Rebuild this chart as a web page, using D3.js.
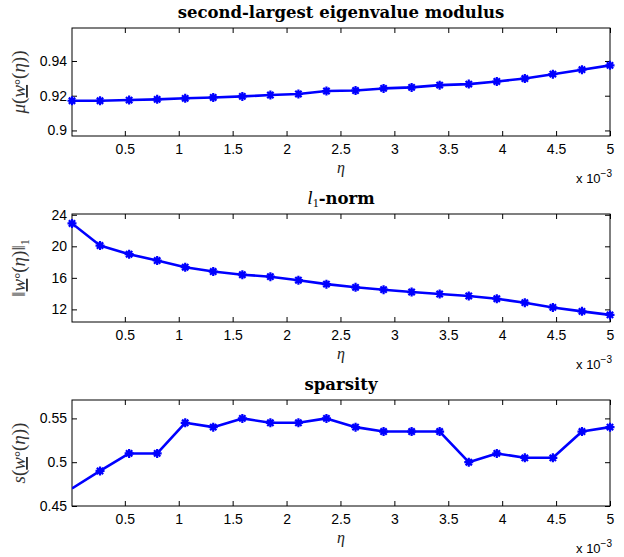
<!DOCTYPE html>
<html><head><meta charset="utf-8">
<script src="https://cdn.jsdelivr.net/npm/d3@7"></script>
<style>
body{margin:0;background:#fff;}
svg{display:block;}
</style></head>
<body>
<svg id="chart" width="624" height="557"></svg>
<script>
// eta values, in units of 1e-3
const eta = [0.01,0.27,0.54,0.80,1.06,1.32,1.59,1.85,2.11,2.37,2.64,2.90,3.16,3.42,3.69,3.95,4.21,4.47,4.74,5.00];
const xTicks = [0.5,1,1.5,2,2.5,3,3.5,4,4.5,5];

const modulus = [0.9171,0.9171,0.9175,0.9179,0.9185,0.9190,0.9196,0.9204,0.9210,0.9227,0.9230,0.9242,0.9248,0.9261,0.9267,0.9282,0.9299,0.9324,0.9350,0.9375];
const modulusTicks = [0.9,0.92,0.94];

const l1norm = [22.9,20.1,19.0,18.2,17.35,16.8,16.4,16.15,15.7,15.2,14.8,14.5,14.2,13.95,13.7,13.35,12.85,12.25,11.75,11.3];
const l1Ticks = [12,16,20,24];

const sparsity = [0.47,0.49,0.51,0.51,0.545,0.54,0.55,0.545,0.545,0.55,0.54,0.535,0.535,0.535,0.50,0.51,0.505,0.505,0.535,0.54];
const sparsityTicks = [0.45,0.5,0.55];

const svg = d3.select("#chart");
const L = 72, R = 610;
const x = d3.scaleLinear().domain([0.01, 5.0]).range([L, R]);

const panels = [
  {top:28, h:108, data:modulus, dom:[0.8968,0.959], ticks:modulusTicks, skipFirst:false},
  {top:214, h:108, data:l1norm, dom:[10.4,24.1], ticks:l1Ticks, skipFirst:false},
  {top:400, h:106, data:sparsity, dom:[0.45,0.571], ticks:sparsityTicks, skipFirst:true}
];

const tickFont = "'Liberation Sans', Arial, sans-serif";
const serif = "'DejaVu Serif', 'Liberation Serif', serif";
const mathFont = "'Liberation Serif', 'DejaVu Serif', serif";

function starPath(r){
  const d = r*0.7;
  return `M${-r},0L${r},0M0,${-r}L0,${r}M${-d},${-d}L${d},${d}M${-d},${d}L${d},${-d}`;
}

panels.forEach((p,pi)=>{
  const y = d3.scaleLinear().domain(p.dom).range([p.top+p.h, p.top]);
  const g = svg.append("g");
  const B = p.top + p.h;

  g.append("rect").attr("x",L).attr("y",p.top).attr("width",R-L).attr("height",p.h)
    .attr("fill","none").attr("stroke","#000").attr("stroke-width",1);

  const xb = g.append("g").attr("transform",`translate(0,${B})`)
    .call(d3.axisBottom(x).tickValues(xTicks).tickSizeInner(-5).tickSizeOuter(0).tickPadding(8).tickFormat(d=>String(d)));
  xb.select(".domain").remove();
  xb.selectAll("text").attr("font-family",tickFont).attr("font-size",14).attr("fill","#000");
  const xt = g.append("g").attr("transform",`translate(0,${p.top})`)
    .call(d3.axisTop(x).tickValues(xTicks).tickSizeInner(-5).tickSizeOuter(0).tickFormat(""));
  xt.select(".domain").remove();

  const yl = g.append("g").attr("transform",`translate(${L},0)`)
    .call(d3.axisLeft(y).tickValues(p.ticks).tickSizeInner(-5).tickSizeOuter(0).tickPadding(5).tickFormat(d=>String(d)));
  yl.select(".domain").remove();
  yl.selectAll("text").attr("font-family",tickFont).attr("font-size",14).attr("fill","#000");
  const yr = g.append("g").attr("transform",`translate(${R},0)`)
    .call(d3.axisRight(y).tickValues(p.ticks).tickSizeInner(-5).tickSizeOuter(0).tickFormat(""));
  yr.select(".domain").remove();

  const cid = "clip"+pi;
  svg.append("clipPath").attr("id",cid).append("rect")
    .attr("x",L).attr("y",p.top).attr("width",R-L).attr("height",p.h);

  const line = d3.line().x((d,i)=>x(eta[i])).y(d=>y(d));
  g.append("path").datum(p.data).attr("d",line).attr("fill","none")
    .attr("stroke","#0000ff").attr("stroke-width",2.6).attr("stroke-linejoin","round")
    .attr("clip-path",`url(#${cid})`);

  const pts = p.data.map((v,i)=>({v,i})).filter(d=>!(p.skipFirst && d.i===0));
  g.selectAll("path.mk").data(pts).join("path").attr("class","mk")
    .attr("transform",d=>`translate(${x(eta[d.i])},${y(d.v)})`)
    .attr("d",starPath(4.5)).attr("stroke","#0000ff").attr("stroke-width",2.2).attr("fill","none");

  g.append("text").attr("x",(L+R)/2).attr("y",B+37).attr("text-anchor","middle")
    .attr("font-family",mathFont).attr("font-style","italic").attr("font-size",16).attr("fill","#222").text("η");
  const ex = g.append("text").attr("x",R+2).attr("y",B+47).attr("text-anchor","end")
    .attr("font-family",tickFont).attr("font-size",13).attr("fill","#000");
  ex.append("tspan").text("x 10");
  ex.append("tspan").attr("dy",-6).attr("font-size",10).text("−3");

  const t = g.append("text").attr("x",(L+R)/2).attr("y",p.top-10).attr("text-anchor","middle")
    .attr("font-family",serif).attr("font-weight","bold").attr("font-size",16.5).attr("fill","#000");
  if(pi===0){ t.text("second-largest eigenvalue modulus"); }
  else if(pi===1){
    t.append("tspan").attr("font-family",mathFont).attr("font-style","italic").attr("font-weight","normal").attr("font-size",19).text("l");
    t.append("tspan").attr("dy",3).attr("font-weight","normal").attr("font-size",12).attr("font-family",mathFont).text("1");
    t.append("tspan").attr("dy",-3).text("-norm");
  } else { t.text("sparsity"); }

  const cy = p.top + p.h/2;
  const yt = g.append("text").attr("transform",`translate(25,${cy}) rotate(-90)`).attr("text-anchor","middle")
    .attr("font-family",mathFont).attr("font-size",19).attr("fill","#333");
  const w = ()=>{
    yt.append("tspan").attr("font-style","italic").attr("text-decoration","underline").text("w");
    yt.append("tspan").attr("font-size",15).text("°");
    yt.append("tspan").text("(");
    yt.append("tspan").attr("font-style","italic").text("η");
    yt.append("tspan").text(")");
  };
  if(pi===0){
    yt.append("tspan").attr("font-style","italic").text("μ");
    yt.append("tspan").text("(");
    w();
    yt.append("tspan").text(")");
  } else if(pi===1){
    yt.append("tspan").text("‖");
    w();
    yt.append("tspan").text("‖");
    yt.append("tspan").attr("dy",4).attr("font-size",12).text("1");
  } else {
    yt.append("tspan").attr("font-style","italic").text("s");
    yt.append("tspan").text("(");
    w();
    yt.append("tspan").text(")");
  }
});
</script>
</body></html>
